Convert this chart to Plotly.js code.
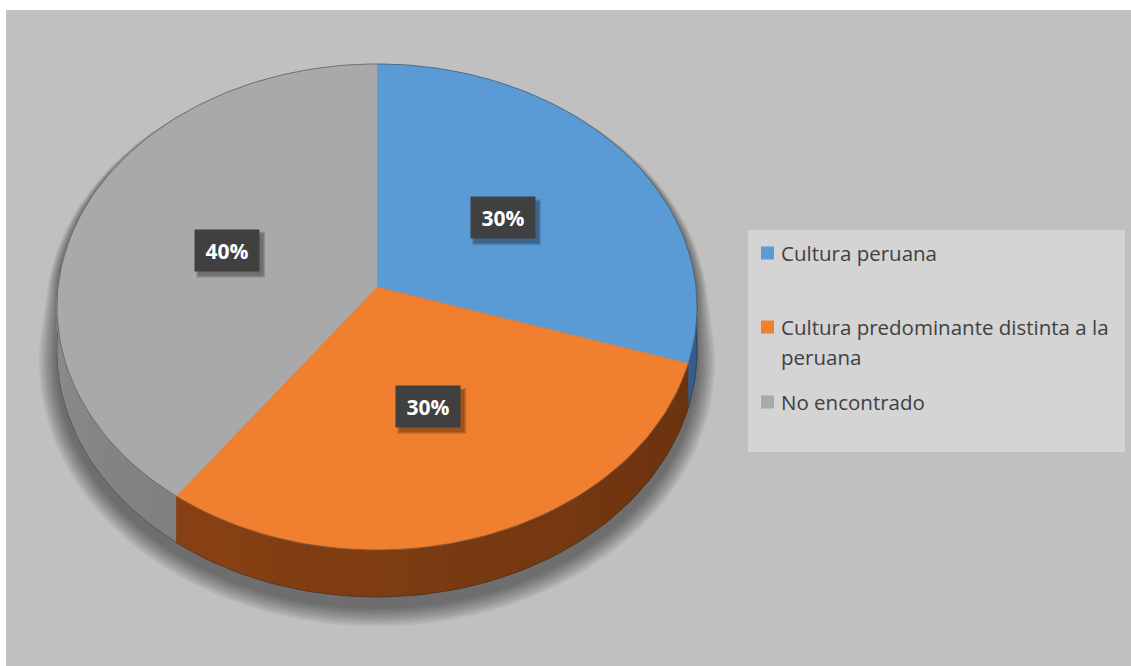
<!DOCTYPE html>
<html>
<head>
<meta charset="utf-8">
<script src="https://cdn.plot.ly/plotly-3.0.1.min.js"></script>
<style>html,body{margin:0;padding:0;background:#fff;}#chart{width:1131px;height:666px;}</style>
</head>
<body>
<div id="chart"></div>
<script>
// ---- data ----
const categories = ['Cultura peruana', 'Cultura predominante distinta a la peruana', 'No encontrado'];
const values = [30, 30, 40];
const percentLabels = ['30%', '30%', '40%'];
const legendLines = [['Cultura peruana'], ['Cultura predominante distinta a la', 'peruana'], ['No encontrado']];

// ---- styles ----
const topColors = ['#5b9bd5', '#f07f2f', '#a9a9a9'];
const sideBase = [[62, 112, 168], [126, 60, 18], [118, 118, 118]];

// ---- geometry (pixel space via axes) ----
const W = 1131, Hh = 666;
const CX = 377, CY = 287, A = 319, B = 241.4, P = 0.0823, DEPTH = 43;
const deg = Math.PI / 180;

function pt(theta, r, drop) {
  r = r === undefined ? 1 : r; drop = drop || 0;
  const w = 1 + P * r * Math.cos(theta);
  return [CX + A * r * Math.sin(theta) / w, CY - B * r * Math.cos(theta) / w + drop / w];
}

const total = values.reduce((a, b) => a + b, 0);
const angles = [];
let acc = 0;
values.forEach(v => { const a0 = acc / total * 2 * Math.PI; acc += v; angles.push([a0, acc / total * 2 * Math.PI]); });

const traces = [];

// soft shadow (mostly below the pie)
function silhouette(exp, dy) {
  const xs = [], ys = [];
  for (let i = 0; i <= 180; i++) {
    const t = i * 2 * deg;
    const c = Math.cos(t);
    const w = 1 + P * c;
    const drop = c < 0 ? DEPTH : 0;
    const e = c < 0 ? exp : exp * (1 - c) * 0.6;
    xs.push(CX + (A + e) * Math.sin(t) / w);
    ys.push(CY - (B + e) * c / w + drop / w + dy * (c < 0 ? 1 : 0.2));
  }
  return [xs, ys];
}
for (let k = 0; k < 10; k++) {
  const s = silhouette(18 - k * 1.8, 10);
  traces.push({x: s[0], y: s[1], type: 'scatter', mode: 'lines', fill: 'toself',
    fillcolor: 'rgba(0,0,0,0.05)', line: {width: 0}, hoverinfo: 'skip'});
}

// side walls
const visLo = 90 * deg, visHi = 270 * deg;
angles.forEach((ab, i) => {
  const lo = Math.max(ab[0], visLo), hi = Math.min(ab[1], visHi);
  if (hi <= lo) return;
  const n = Math.max(2, Math.ceil((hi - lo) / (6 * deg)));
  for (let s = 0; s < n; s++) {
    const t1 = lo + (hi - lo) * s / n, t2 = lo + (hi - lo) * (s + 1) / n;
    const xs = [], ys = [];
    for (let j = 0; j <= 4; j++) { const p = pt(t1 + (t2 - t1) * j / 4); xs.push(p[0]); ys.push(p[1]); }
    for (let j = 4; j >= 0; j--) { const p = pt(t1 + (t2 - t1) * j / 4, 1, DEPTH); xs.push(p[0]); ys.push(p[1]); }
    const tm = (t1 + t2) / 2;
    const f = 0.8 + 0.4 * (tm - visLo) / (visHi - visLo);
    const c = sideBase[i].map(v => Math.min(255, Math.round(v * f)));
    const col = 'rgb(' + c.join(',') + ')';
    traces.push({x: xs, y: ys, type: 'scatter', mode: 'lines', fill: 'toself', fillcolor: col,
      line: {width: 1, color: col}, hoverinfo: 'skip'});
  }
});

// wall bottom outline
(function () {
  const xs = [], ys = [];
  for (let i = 0; i <= 90; i++) { const p = pt(visLo + (visHi - visLo) * i / 90, 1, DEPTH); xs.push(p[0]); ys.push(p[1]); }
  traces.push({x: xs, y: ys, type: 'scatter', mode: 'lines', line: {width: 0.8, color: 'rgba(50,50,50,0.7)'}, hoverinfo: 'skip'});
})();

// top faces
angles.forEach((ab, i) => {
  const xs = [CX], ys = [CY];
  const n = Math.max(4, Math.ceil((ab[1] - ab[0]) / (1.5 * deg)));
  for (let j = 0; j <= n; j++) { const p = pt(ab[0] + (ab[1] - ab[0]) * j / n); xs.push(p[0]); ys.push(p[1]); }
  xs.push(CX); ys.push(CY);
  traces.push({x: xs, y: ys, type: 'scatter', mode: 'lines', fill: 'toself', fillcolor: topColors[i],
    line: {width: 0.6, color: topColors[i]}, name: categories[i], hoverinfo: 'skip'});
});

// top outline
(function () {
  const xs = [], ys = [];
  for (let i = 0; i <= 240; i++) { const p = pt(i * 1.5 * deg); xs.push(p[0]); ys.push(p[1]); }
  traces.push({x: xs, y: ys, type: 'scatter', mode: 'lines', line: {width: 0.8, color: 'rgba(70,70,70,0.75)'}, hoverinfo: 'skip'});
})();

const shapes = [
  {type: 'rect', xref: 'x', yref: 'y', x0: 6, y0: 10, x1: W, y1: Hh, fillcolor: '#c0c0c0', line: {width: 0}, layer: 'below'},
  {type: 'rect', xref: 'x', yref: 'y', x0: 748, y0: 230, x1: 1125, y1: 452, fillcolor: '#d4d4d4', line: {width: 0}, layer: 'below'}
];

// labels (box shadow as shape, box + text as annotation)
const annotations = [];
const boxW = 64, boxH = 41;
angles.forEach((ab, i) => {
  const p = pt((ab[0] + ab[1]) / 2, 0.5);
  for (let k = 0; k < 3; k++) {
    shapes.push({type: 'rect', xref: 'x', yref: 'y', layer: 'above',
      x0: p[0] - boxW / 2 + 3 - k, x1: p[0] + boxW / 2 + 4 + k, y0: p[1] - boxH / 2 + 4 - k, y1: p[1] + boxH / 2 + 5 + k,
      fillcolor: 'rgba(0,0,0,0.13)', line: {width: 0}});
  }
  annotations.push({x: p[0], y: p[1], xref: 'x', yref: 'y', text: '<b>' + percentLabels[i] + '</b>', showarrow: false,
    width: boxW, height: boxH, bgcolor: '#404040', borderpad: 0, valign: 'middle',
    font: {family: 'Open Sans', size: 21, color: '#ffffff'}});
});

// legend (custom)
const legendX = 779, sqX0 = 761, sqSize = 13;
const legendRowY = [[253], [327, 357], [402]];
categories.forEach((c, i) => {
  const ys = legendRowY[i];
  shapes.push({type: 'rect', xref: 'x', yref: 'y', x0: sqX0, x1: sqX0 + sqSize, y0: ys[0] - sqSize / 2, y1: ys[0] + sqSize / 2,
    fillcolor: topColors[i], line: {width: 0}, layer: 'above'});
  legendLines[i].forEach((ln, k) => {
    annotations.push({x: legendX, y: ys[k], xref: 'x', yref: 'y', text: ln, showarrow: false, xanchor: 'left', yanchor: 'middle',
      font: {family: 'Open Sans', size: 20.5, color: '#404040'}});
  });
});

const layout = {
  width: W, height: Hh,
  margin: {l: 0, r: 0, t: 0, b: 0, pad: 0},
  paper_bgcolor: '#ffffff', plot_bgcolor: 'rgba(0,0,0,0)',
  showlegend: false, hovermode: false,
  xaxis: {range: [0, W], visible: false, fixedrange: true},
  yaxis: {range: [Hh, 0], visible: false, fixedrange: true},
  shapes: shapes, annotations: annotations
};

Plotly.newPlot('chart', traces, layout, {displayModeBar: false, staticPlot: true});
</script>
</body>
</html>
